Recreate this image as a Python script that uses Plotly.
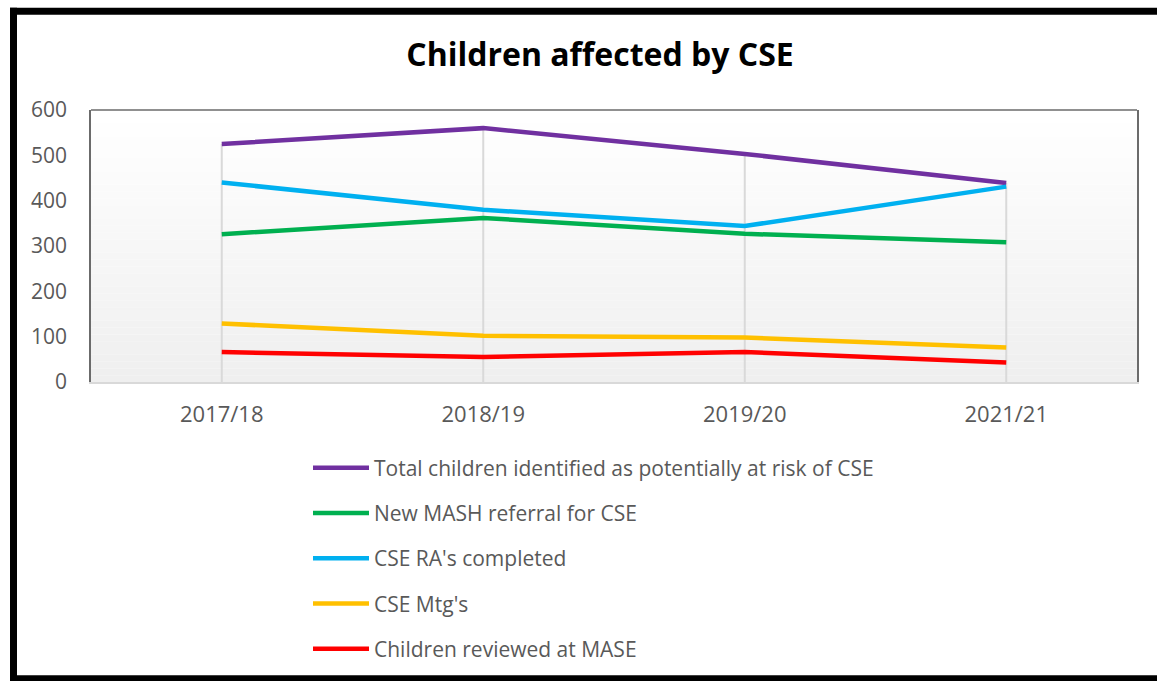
import plotly.graph_objects as go

categories = ["2017/18", "2018/19", "2019/20", "2021/21"]
total_at_risk = [525, 560, 503, 439]
mash_referral = [326, 362, 327, 308]
ra_completed = [440, 380, 344, 431]
cse_mtgs = [129, 102, 98, 76]
reviewed_mase = [66, 55, 66, 43]

series = [
    ("Total children identified as potentially at risk of CSE", total_at_risk, "#7030A0"),
    ("New MASH referral for CSE", mash_referral, "#00B050"),
    ("CSE RA's completed", ra_completed, "#00B0F0"),
    ("CSE Mtg's", cse_mtgs, "#FFC000"),
    ("Children reviewed at MASE", reviewed_mase, "#FF0000"),
]

FONT = "Open Sans"
W, H = 1157, 681
# plot area in page pixels: left 91, right 1137, top 110, bottom 384
L, T = 91, 110
R = W - 1137
B = H - 384
pw, ph = W - L - R, H - T - B

fig = go.Figure()

# drop lines from the highest value at each category to the axis
maxes = [max(vals) for vals in zip(*[s[1] for s in series])]
dx, dy = [], []
for c, m in zip(categories, maxes):
    dx += [c, c, None]
    dy += [m, 0, None]
fig.add_trace(go.Scatter(x=dx, y=dy, mode="lines", line=dict(color="#d9d9d9", width=2),
                         showlegend=False, hoverinfo="skip"))

for i, (name, vals, color) in enumerate(series):
    fig.add_trace(go.Scatter(x=categories, y=vals, mode="lines", name=name,
                             line=dict(color=color, width=4.5), legendgroup=f"g{i}"))

def px_x(p):
    return (p - L) / pw
def px_y(p):
    return (H - B - p) / ph

# gradient background bands
shapes = []
n = 40
for k in range(n):
    t = k / (n - 1)
    v = int(round(255 - (255 - 239) * t))
    shapes.append(dict(type="rect", xref="paper", yref="paper", x0=0, x1=1,
                       y0=1 - (k + 1) / n, y1=1 - k / n, line=dict(width=0),
                       fillcolor=f"rgb({v},{v},{v})", layer="below"))
shapes.append(dict(type="line", xref="paper", yref="paper", x0=0, x1=1, y0=1, y1=1,
                   line=dict(color="#6b6b6b", width=1.5)))
frame = dict(color="black", width=7)
shapes.append(dict(type="line", xref="paper", yref="paper",
                   x0=px_x(13.5), x1=px_x(13.5), y0=px_y(7), y1=px_y(681), line=frame))
shapes.append(dict(type="line", xref="paper", yref="paper",
                   x0=px_x(10), x1=px_x(1157), y0=px_y(10.5), y1=px_y(10.5), line=frame))
shapes.append(dict(type="line", xref="paper", yref="paper",
                   x0=px_x(10), x1=px_x(1157), y0=px_y(683), y1=px_y(683), line=frame))

fig.update_layout(
    width=W, height=H,
    margin=dict(l=L, r=R, t=T, b=B),
    paper_bgcolor="white",
    plot_bgcolor="white",
    shapes=shapes,
    title=dict(text="<b>Children affected by CSE</b>", x=600 / W, xref="container",
               y=1 - 55 / H, yref="container", yanchor="middle", xanchor="center",
               font=dict(family=FONT, size=32, color="black")),
    xaxis=dict(type="category", range=[-0.5, 3.5], showgrid=False, zeroline=False,
               showline=True, linecolor="#d9d9d9", linewidth=2,
               ticks="outside", ticklen=12, tickcolor="rgba(0,0,0,0)",
               tickfont=dict(family=FONT, size=22, color="#595959")),
    yaxis=dict(range=[0, 600], dtick=100, showgrid=False, zeroline=False,
               showline=True, linecolor="#6b6b6b", linewidth=1.5, mirror=True,
               ticks="outside", ticklen=18, tickcolor="rgba(0,0,0,0)",
               tickfont=dict(family=FONT, size=21, color="#595959")),
    legend=dict(orientation="v", x=px_x(308), xanchor="left", y=px_y(450), yanchor="top",
                tracegroupgap=15, itemwidth=56,
                font=dict(family=FONT, size=21, color="#595959"),
                bgcolor="rgba(0,0,0,0)"),
    showlegend=True,
)

fig.write_html(
    "out.html",
    config={"displayModeBar": False},
    post_script="document.body.style.margin='0px';document.documentElement.style.overflow='hidden';document.body.style.overflow='hidden';",
)
